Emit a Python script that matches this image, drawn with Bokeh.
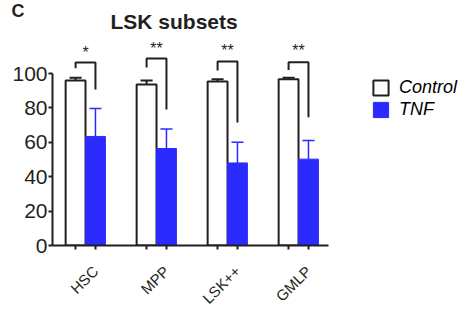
from bokeh.plotting import figure
from bokeh.models import (FixedTicker, Range1d, Title, Legend, LegendItem, ColumnDataSource)
from bokeh.core.properties import value
from bokeh.embed import file_html
from bokeh.resources import INLINE

categories = ["HSC", "MPP", "LSK++", "GMLP"]
control_mean = [96.0, 93.6, 95.3, 96.7]
control_err = [1.5, 2.4, 1.4, 0.8]
tnf_mean = [63.4, 56.4, 48.0, 50.2]
tnf_err = [16.2, 11.4, 12.0, 10.8]
significance = ["*", "**", "**", "**"]
star_y = [112.5, 114.3, 113.3, 113.3]
bracket_top = [106.4, 108.7, 107.0, 106.6]
bracket_left_bottom = [103.0, 103.5, 101.7, 102.0]
bracket_right_bottom = [90.7, 79.0, 71.5, 74.6]
y_ticks = [0, 20, 40, 60, 80, 100]

DARK = "#231f20"
BLUE = "#2b2bff"
FONT = "Liberation Sans"
off = 0.14
bw = 0.28
cap = 0.085

groups = list(range(len(categories)))
cx = [g - off for g in groups]
tx = [g + off for g in groups]

p = figure(width=468, height=332, output_backend="svg", toolbar_location=None,
           x_range=Range1d(-0.465, 5.394), y_range=Range1d(0, 125.0),
           min_border_left=52, min_border_right=0, min_border_top=30,
           min_border_bottom=87)
p.grid.visible = False
p.outline_line_color = None
p.background_fill_color = "white"

src_c = ColumnDataSource(dict(x=cx, top=control_mean))
src_t = ColumnDataSource(dict(x=tx, top=tnf_mean))

# error bars (upper only)
c_hi = [m + e for m, e in zip(control_mean, control_err)]
t_hi = [m + e for m, e in zip(tnf_mean, tnf_err)]
p.segment(x0=cx, y0=control_mean, x1=cx, y1=c_hi, line_color=DARK, line_width=2)
p.segment(x0=[x - cap for x in cx], y0=c_hi, x1=[x + cap for x in cx], y1=c_hi,
          line_color=DARK, line_width=2)
p.segment(x0=tx, y0=tnf_mean, x1=tx, y1=t_hi, line_color=BLUE, line_width=1.5)
p.segment(x0=[x - cap for x in tx], y0=t_hi, x1=[x + cap for x in tx], y1=t_hi,
          line_color=BLUE, line_width=1.5)

r_c = p.vbar(x="x", top="top", bottom=0, width=bw, source=src_c,
             fill_color="white", line_color=DARK, line_width=2)
r_t = p.vbar(x="x", top="top", bottom=0, width=bw, source=src_t,
             fill_color=BLUE, line_color=BLUE, line_width=1)

# significance brackets
xs = [[c, c, t, t] for c, t in zip(cx, tx)]
ys = [[lb, top, top, rb] for lb, top, rb in
      zip(bracket_left_bottom, bracket_top, bracket_right_bottom)]
p.multi_line(xs=xs, ys=ys, line_color=DARK, line_width=2)
p.text(x=groups, y=star_y, text=significance, text_align="center",
       text_baseline="alphabetic", text_font=value(FONT),
       text_font_size="16px", text_color=DARK)

# axes
ya = p.yaxis[0]
ya.ticker = FixedTicker(ticks=y_ticks)
ya.bounds = (0, 100)
ya.minor_tick_line_color = None
ya.axis_line_width = 2
ya.axis_line_color = DARK
ya.major_tick_line_width = 2
ya.major_tick_line_color = DARK
ya.major_tick_out = 4
ya.major_tick_in = 0
ya.major_label_standoff = 1
ya.major_label_text_font = FONT
ya.major_label_text_font_size = "21px"
ya.major_label_text_color = DARK

xa = p.xaxis[0]
ticks = sorted(cx + tx)
xa.ticker = FixedTicker(ticks=ticks)
overrides = {}
for c, t, name in zip(cx, tx, categories):
    overrides[c] = ""
    overrides[t] = name
xa.major_label_overrides = overrides
xa.bounds = (-0.465, 3.42)
xa.major_label_orientation = 0.785398
xa.minor_tick_line_color = None
xa.axis_line_width = 2
xa.axis_line_color = DARK
xa.major_tick_line_width = 2
xa.major_tick_line_color = DARK
xa.major_tick_out = 4
xa.major_tick_in = 0
xa.major_label_standoff = 19
xa.major_label_text_font = FONT
xa.major_label_text_font_size = "15px"
xa.major_label_text_color = DARK

legend = Legend(items=[LegendItem(label="Control", renderers=[r_c]),
                       LegendItem(label="TNF", renderers=[r_t])],
                location=(319, 125), margin=0, padding=0, spacing=1,
                glyph_width=19, glyph_height=19, label_height=19,
                label_standoff=9, label_text_font=FONT,
                label_text_font_size="18px", label_text_font_style="italic",
                label_text_color="black", border_line_alpha=0,
                background_fill_alpha=0)
p.add_layout(legend)

p.add_layout(Title(text="LSK subsets", align="left", offset=58, standoff=-4,
                   text_font=FONT, text_font_size="21px", text_font_style="bold",
                   text_color=DARK), "above")
p.add_layout(Title(text="C", align="left", offset=-41, standoff=-22,
                   text_font=FONT, text_font_size="18px", text_font_style="bold",
                   text_color=DARK), "above")

open("out.html", "w").write(file_html(p, INLINE))
